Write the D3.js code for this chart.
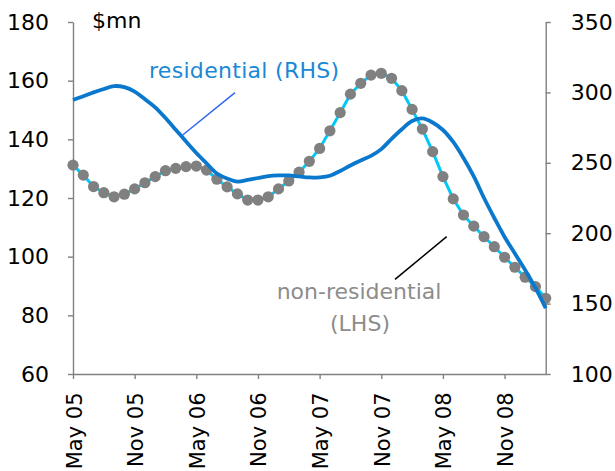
<!DOCTYPE html>
<html>
<head>
<meta charset="utf-8">
<script src="https://cdn.jsdelivr.net/npm/d3@7/dist/d3.min.js"></script>
<style>
  html, body { margin: 0; padding: 0; background: #fff; }
  svg { display: block; font-family: "DejaVu Sans", Verdana, sans-serif; }
</style>
</head>
<body>
<svg id="chart" width="615" height="471"></svg>
<script>
// Monthly construction values, May 2005 to March 2009
const months = [
  "May 05","Jun 05","Jul 05","Aug 05","Sep 05","Oct 05","Nov 05","Dec 05",
  "Jan 06","Feb 06","Mar 06","Apr 06","May 06","Jun 06","Jul 06","Aug 06",
  "Sep 06","Oct 06","Nov 06","Dec 06","Jan 07","Feb 07","Mar 07","Apr 07",
  "May 07","Jun 07","Jul 07","Aug 07","Sep 07","Oct 07","Nov 07","Dec 07",
  "Jan 08","Feb 08","Mar 08","Apr 08","May 08","Jun 08","Jul 08","Aug 08",
  "Sep 08","Oct 08","Nov 08","Dec 08","Jan 09","Feb 09","Mar 09"
];

// Non-residential, $mn (left-hand scale)
const nonResidential = [
  131.2, 127.8, 123.9, 121.8, 120.4, 121.3, 123.1, 125.2,
  127.3, 129.3, 130.1, 130.7, 130.9, 129.5, 126.4, 123.8,
  121.4, 119.3, 119.3, 120.4, 123.1, 125.8, 128.8, 132.5,
  136.9, 142.9, 149.1, 155.4, 159.1, 161.9, 162.5, 160.8,
  156.6, 150.2, 143.5, 135.8, 127.3, 119.7, 114.2, 110.4,
  106.8, 103.4, 99.8, 96.4, 93.0, 89.8, 85.8
];

// Residential, $mn (right-hand scale)
const residential = [
  294.6, 297.2, 300.0, 302.4, 304.5, 303.7, 300.6, 295.2,
  289.4, 281.8, 273.5, 265.1, 257.0, 249.6, 242.4, 238.8,
  236.6, 237.8, 239.2, 240.6, 241.1, 241.0, 240.3, 239.6,
  239.7, 240.8, 244.2, 248.1, 251.6, 254.9, 259.7, 267.0,
  273.8, 279.7, 281.5, 278.6, 273.3, 264.8, 253.4, 240.3,
  225.0, 210.8, 197.3, 185.6, 173.9, 161.1, 146.7
];

const xTickLabels = ["May 05","Nov 05","May 06","Nov 06","May 07","Nov 07","May 08","Nov 08"];
const leftTicks = [60, 80, 100, 120, 140, 160, 180];
const rightTicks = [100, 150, 200, 250, 300, 350];

const svg = d3.select("#chart");
const plot = { left: 73, right: 545.7, top: 22, bottom: 374 };

const x = d3.scalePoint().domain(months).range([plot.left, plot.right]).padding(0);
const yL = d3.scaleLinear().domain([60, 180]).range([plot.bottom, plot.top]);
const yR = d3.scaleLinear().domain([100, 350]).range([plot.bottom, plot.top]);

const axisColor = "#808080";
const fontSize = 22;

function styleAxis(g, size) {
  g.select(".domain").attr("stroke", axisColor).attr("stroke-width", 1.4);
  g.selectAll(".tick line").attr("stroke", axisColor).attr("stroke-width", 1.4);
  g.selectAll(".tick text").attr("fill", "#000").style("font-size", (size || fontSize) + "px")
    .style("font-family", "'DejaVu Sans', Verdana, sans-serif");
}

// Left axis
svg.append("g")
  .attr("transform", `translate(${plot.left},0)`)
  .call(d3.axisLeft(yL).tickValues(leftTicks).tickSize(5).tickSizeOuter(0).tickPadding(19))
  .call(styleAxis);

// Right axis
svg.append("g")
  .attr("transform", `translate(${plot.right},0)`)
  .call(d3.axisRight(yR).tickValues(rightTicks).tickSize(5).tickSizeOuter(0).tickPadding(20))
  .call(styleAxis);

// Bottom axis with rotated month labels
const xAxis = svg.append("g")
  .attr("transform", `translate(0,${plot.bottom})`)
  .call(d3.axisBottom(x).tickValues(xTickLabels).tickSize(5).tickSizeOuter(0))
  .call(g => styleAxis(g, 21));
xAxis.selectAll(".tick text")
  .attr("text-anchor", "end")
  .attr("dy", null)
  .attr("y", 0)
  .attr("x", 0)
  .attr("transform", "translate(8,18.5) rotate(-90)");

// Non-residential: cyan line with grey markers
const lineNon = d3.line()
  .x((d, i) => x(months[i]))
  .y(d => yL(d));
svg.append("path")
  .datum(nonResidential)
  .attr("fill", "none")
  .attr("stroke", "#00c8f8")
  .attr("stroke-width", 3)
  .attr("d", lineNon);
svg.append("g")
  .selectAll("circle")
  .data(nonResidential)
  .join("circle")
  .attr("cx", (d, i) => x(months[i]))
  .attr("cy", d => yL(d))
  .attr("r", 5.6)
  .attr("fill", "#808080");

// Residential: smooth blue line
const lineRes = d3.line()
  .x((d, i) => x(months[i]))
  .y(d => yR(d))
  .curve(d3.curveCatmullRom.alpha(0.5));
svg.append("path")
  .datum(residential)
  .attr("fill", "none")
  .attr("stroke", "#0a78cc")
  .attr("stroke-width", 3.8)
  .attr("stroke-linejoin", "round")
  .attr("d", lineRes);

// Unit label
svg.append("text")
  .attr("x", 92)
  .attr("y", 28)
  .style("font-size", fontSize + "px")
  .attr("fill", "#000")
  .text("$mn");

// Series annotations with leader lines
svg.append("line")
  .attr("x1", 235).attr("y1", 92.7)
  .attr("x2", 182.7).attr("y2", 135)
  .attr("stroke", "#3366f0").attr("stroke-width", 1.5);
svg.append("text")
  .attr("x", 149)
  .attr("y", 78)
  .style("font-size", fontSize + "px")
  .style("letter-spacing", "0.3px")
  .attr("fill", "#1a88d6")
  .text("residential (RHS)");

svg.append("line")
  .attr("x1", 446.7).attr("y1", 236.7)
  .attr("x2", 395).attr("y2", 279.3)
  .attr("stroke", "#000").attr("stroke-width", 1.5);
const nonLabel = svg.append("text")
  .attr("text-anchor", "middle")
  .style("font-size", fontSize + "px")
  .attr("fill", "#8c8c8c");
nonLabel.append("tspan").attr("x", 359).attr("y", 299).text("non-residential");
nonLabel.append("tspan").attr("x", 360).attr("y", 331).text("(LHS)");
</script>
</body>
</html>
